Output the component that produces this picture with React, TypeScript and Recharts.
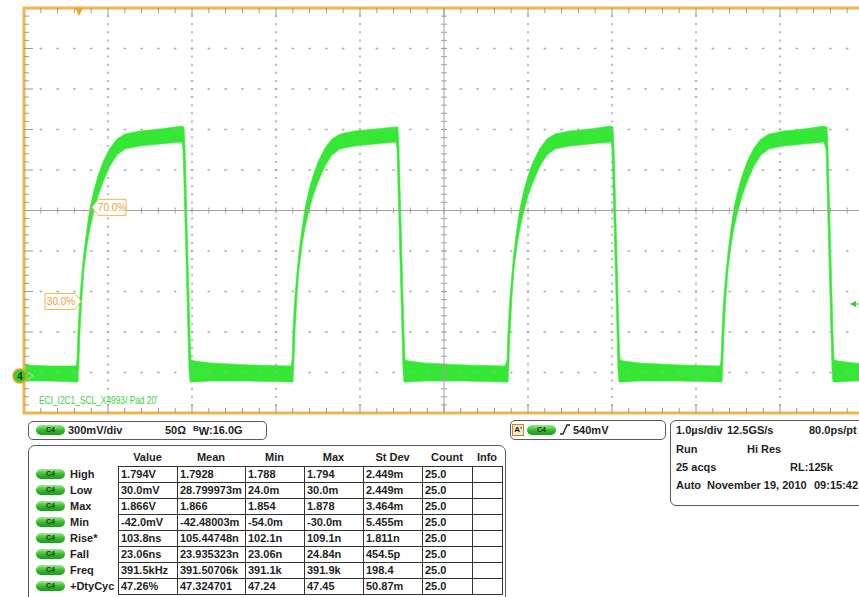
import React from "react";
import {
  ComposedChart,
  Area,
  XAxis,
  YAxis,
  ReferenceLine,
  ReferenceArea,
  ReferenceDot,
} from "recharts";

// C4 trace: time in µs, band envelope in volts
const timeUs = [
  0, 0.3, 0.619, 0.631, 0.643, 0.655, 0.667, 0.69, 0.714, 0.75, 0.786, 0.833, 0.881, 0.94, 1.024, 1.107, 1.202, 1.381, 1.619, 1.881,
  1.893, 1.905, 1.917, 1.929, 1.94, 1.952, 1.964, 1.976, 1.988, 2.036, 2.214, 2.69, 3.167,
  3.179, 3.191, 3.202, 3.214, 3.226, 3.25, 3.274, 3.31, 3.345, 3.393, 3.44, 3.5, 3.583, 3.667, 3.762, 3.94, 4.179, 4.429,
  4.441, 4.452, 4.464, 4.476, 4.488, 4.5, 4.512, 4.524, 4.536, 4.583, 4.762, 5.238, 5.726,
  5.75, 5.762, 5.774, 5.786, 5.81, 5.833, 5.869, 5.905, 5.952, 6.0, 6.06, 6.143, 6.226, 6.321, 6.5, 6.738, 6.988,
  7.0, 7.012, 7.024, 7.036, 7.048, 7.06, 7.071, 7.083, 7.095, 7.143, 7.321, 7.798, 8.286,
  8.298, 8.31, 8.321, 8.333, 8.357, 8.381, 8.417, 8.452, 8.5, 8.548, 8.607, 8.69, 8.774, 8.869, 9.048, 9.286, 9.524,
  9.548, 9.56, 9.571, 9.583, 9.595, 9.607, 9.619, 9.631, 9.643, 9.69, 9.881, 10.0,
];
const upperV = [
  0.083, 0.075, 0.075, 0.12, 0.345, 0.48, 0.6, 0.78, 0.93, 1.11, 1.26, 1.395, 1.5, 1.605, 1.71, 1.778, 1.815, 1.838, 1.853, 1.875,
  1.868, 1.868, 1.71, 1.433, 1.155, 0.878, 0.6, 0.323, 0.12, 0.113, 0.098, 0.083, 0.075,
  0.075, 0.12, 0.345, 0.48, 0.6, 0.78, 0.93, 1.11, 1.26, 1.395, 1.5, 1.605, 1.71, 1.778, 1.815, 1.838, 1.853, 1.868,
  1.868, 1.868, 1.71, 1.433, 1.155, 0.878, 0.6, 0.323, 0.12, 0.113, 0.098, 0.083, 0.075,
  0.12, 0.345, 0.48, 0.6, 0.78, 0.93, 1.11, 1.26, 1.395, 1.5, 1.605, 1.71, 1.778, 1.815, 1.838, 1.853, 1.875,
  1.868, 1.868, 1.71, 1.433, 1.155, 0.878, 0.6, 0.323, 0.12, 0.113, 0.098, 0.083, 0.075,
  0.12, 0.345, 0.48, 0.6, 0.78, 0.93, 1.11, 1.26, 1.395, 1.5, 1.605, 1.71, 1.778, 1.815, 1.838, 1.853, 1.875,
  1.868, 1.868, 1.71, 1.433, 1.155, 0.878, 0.6, 0.323, 0.12, 0.113, 0.098, 0.09,
];
const lowerV = [
  -0.038, -0.038, -0.045, -0.045, -0.045, 0.12, 0.33, 0.6, 0.8, 0.98, 1.11, 1.24, 1.35, 1.455, 1.575, 1.658, 1.703, 1.725, 1.74, 1.755,
  1.695, 1.433, 1.155, 0.878, 0.6, 0.323, 0.045, -0.045, -0.045, -0.045, -0.038, -0.038, -0.045,
  -0.045, -0.045, -0.045, 0.12, 0.33, 0.6, 0.8, 0.98, 1.11, 1.24, 1.35, 1.455, 1.575, 1.658, 1.703, 1.725, 1.74, 1.755,
  1.695, 1.433, 1.155, 0.878, 0.6, 0.323, 0.045, -0.045, -0.045, -0.045, -0.038, -0.038, -0.045,
  -0.045, -0.045, 0.12, 0.33, 0.6, 0.8, 0.98, 1.11, 1.24, 1.35, 1.455, 1.575, 1.658, 1.703, 1.725, 1.74, 1.755,
  1.695, 1.433, 1.155, 0.878, 0.6, 0.323, 0.045, -0.045, -0.045, -0.045, -0.038, -0.038, -0.045,
  -0.045, -0.045, 0.12, 0.33, 0.6, 0.8, 0.98, 1.11, 1.24, 1.35, 1.455, 1.575, 1.658, 1.703, 1.725, 1.74, 1.755,
  1.695, 1.433, 1.155, 0.878, 0.6, 0.323, 0.045, -0.045, -0.045, -0.045, -0.038, -0.038,
];

// markers
const triggerTimeUs = 0.655;
const triggerLevelV = 0.54;
const rise30 = { t: 0.679, v: 0.559, label: "30.0%" };
const rise70 = { t: 0.81, v: 1.265, label: "70.0%" };

// measurement table
const measureNames = ["High", "Low", "Max", "Min", "Rise*", "Fall", "Freq", "+DtyCyc"];
const measureValue = ["1.794V", "30.0mV", "1.866V", "-42.0mV", "103.8ns", "23.06ns", "391.5kHz", "47.26%"];
const measureMean = ["1.7928", "28.799973m", "1.866", "-42.48003m", "105.44748n", "23.935323n", "391.50706k", "47.324701"];
const measureMin = ["1.788", "24.0m", "1.854", "-54.0m", "102.1n", "23.06n", "391.1k", "47.24"];
const measureMax = ["1.794", "30.0m", "1.878", "-30.0m", "109.1n", "24.84n", "391.9k", "47.45"];
const measureStdDev = ["2.449m", "2.449m", "3.464m", "5.455m", "1.811n", "454.5p", "198.4", "50.87m"];
const measureCount = ["25.0", "25.0", "25.0", "25.0", "25.0", "25.0", "25.0", "25.0"];
const tableHeaders = ["Value", "Mean", "Min", "Max", "St Dev", "Count", "Info"];

const X_MIN = 0;
const X_MAX = 10;
const Y_MIN = -0.2775;
const Y_MAX = 2.76;
const Y_DIV = (Y_MAX - Y_MIN) / 10;
const Y_MID = Y_MIN + 5 * Y_DIV;

const TRACE = "#36e836";
const ORANGE = "#efb650";
const GRID = "#a9a9a9";
const FONT = '"Liberation Sans", Arial, sans-serif';

const rows = timeUs.map((t, i) => ({ t, band: [lowerV[i], upperV[i]] }));

const divsX = [1, 2, 3, 4, 6, 7, 8, 9];
const divsY = [1, 2, 3, 4, 6, 7, 8, 9].map((k) => Y_MIN + k * Y_DIV);
const minorX: number[] = [];
for (let i = 1; i < 50; i++) minorX.push(i / 5);
const minorY: number[] = [];
for (let i = 1; i < 50; i++) minorY.push(Y_MIN + (i * Y_DIV) / 5);

const PX_T = 1 / 84; // µs per px
const PX_V = Y_DIV / 40.5; // V per px

const Tag = (props: any) => {
  const { cx, cy, label, dir } = props;
  if (cx == null || cy == null) return null;
  const pts =
    dir === "left"
      ? `${cx},${cy} ${cx + 6},${cy - 8} ${cx + 34},${cy - 8} ${cx + 34},${cy + 8} ${cx + 6},${cy + 8}`
      : `${cx},${cy} ${cx - 6},${cy - 8} ${cx - 36},${cy - 8} ${cx - 36},${cy + 8} ${cx - 6},${cy + 8}`;
  const tx = dir === "left" ? cx + 20 : cx - 20;
  return (
    <g>
      <polygon points={pts} fill="#fff" stroke={ORANGE} strokeWidth={1} />
      <text x={tx} y={cy + 3.5} textAnchor="middle" fontSize={10} fill="#e3a437" fontFamily={FONT}>
        {label}
      </text>
    </g>
  );
};

const TrigPos = (props: any) => {
  const { cx, cy } = props;
  if (cx == null) return null;
  return <polygon points={`${cx - 4},${cy} ${cx + 4},${cy} ${cx},${cy + 8}`} fill="#f0a52a" />;
};

const TrigLevel = (props: any) => {
  const { cx, cy } = props;
  if (cx == null) return null;
  return (
    <g>
      <polygon points={`${cx},${cy} ${cx + 6},${cy - 3} ${cx + 6},${cy + 3}`} fill="#2fcf2f" />
      <line x1={cx + 5} y1={cy} x2={cx + 12} y2={cy} stroke="#2fcf2f" strokeWidth={1} />
    </g>
  );
};

const GroundMark = (props: any) => {
  const { cx, cy } = props;
  if (cx == null) return null;
  return (
    <g>
      <circle cx={cx - 4} cy={cy} r={7} fill="#3ccf2c" stroke="#f0a020" strokeWidth={1.5} />
      <text x={cx - 4} y={cy + 3.5} textAnchor="middle" fontSize={10} fontWeight="bold" fill="#1d3d10" fontFamily={FONT}>
        4
      </text>
      <polyline points={`${cx + 4},${cy - 4} ${cx + 9},${cy} ${cx + 4},${cy + 4}`} fill="none" stroke="#9ef09e" strokeWidth={1} />
    </g>
  );
};

const Pill = ({ left, top }: { left: number; top: number }) => (
  <div
    style={{
      position: "absolute",
      left,
      top,
      width: 29,
      height: 10,
      borderRadius: 5,
      background: "linear-gradient(#9aec8a, #35b82c 55%, #1f9a1c)",
      color: "#0d3f0d",
      fontSize: 7,
      fontWeight: "bold",
      lineHeight: "10px",
      textAlign: "center",
    }}
  >
    C4
  </div>
);

const T = ({ left, top, children, style }: any) => (
  <div
    style={{
      position: "absolute",
      left,
      top,
      fontSize: 11,
      fontWeight: "bold",
      color: "#1f1f1f",
      lineHeight: "12px",
      whiteSpace: "nowrap",
      ...style,
    }}
  >
    {children}
  </div>
);

const colX = [118, 177, 245, 304, 363, 422, 472, 502];
const ROW_TOP = 466;
const ROW_H = 16;

export default function App() {
  const columns = [measureValue, measureMean, measureMin, measureMax, measureStdDev, measureCount, measureNames.map(() => "")];
  return (
    <div
      style={{
        position: "absolute",
        left: 0,
        top: 0,
        width: 859,
        height: 597,
        overflow: "hidden",
        background: "#fff",
        fontFamily: FONT,
      }}
    >
      <div style={{ position: "absolute", left: 0, top: 0 }}>
        <ComposedChart width={880} height={421} data={rows} margin={{ top: 8, right: 16, bottom: 8, left: 24 }}>
          <XAxis dataKey="t" type="number" domain={[X_MIN, X_MAX]} hide />
          <YAxis type="number" domain={[Y_MIN, Y_MAX]} allowDataOverflow hide />
          {/* dotted graticule */}
          {divsY.map((v) => (
            <ReferenceLine key={"gy" + v} y={v} stroke={GRID} strokeWidth={1.6} strokeDasharray="2.4 14.4" strokeDashoffset={1.2} />
          ))}
          {divsX.map((t) => (
            <ReferenceLine key={"gx" + t} x={t} stroke={GRID} strokeWidth={1.6} strokeDasharray="2 6.1" strokeDashoffset={1} />
          ))}
          <Area
            dataKey="band"
            type="linear"
            stroke={TRACE}
            strokeWidth={0.6}
            fill={TRACE}
            fillOpacity={1}
            dot={false}
            activeDot={false}
            isAnimationActive={false}
          />
          <ReferenceLine x={5} stroke="#a8a0a0" strokeWidth={1} />
          <ReferenceLine y={Y_MID} stroke="#a8a0a0" strokeWidth={1} />
          {minorX.map((t) => (
            <ReferenceLine
              key={"cx" + t}
              segment={[
                { x: t, y: Y_MID - 3 * PX_V },
                { x: t, y: Y_MID + 3 * PX_V },
              ]}
              stroke="#a8a0a0"
            />
          ))}
          {minorY.map((v) => (
            <ReferenceLine
              key={"cy" + v}
              segment={[
                { x: 5 - 3 * PX_T, y: v },
                { x: 5 + 3 * PX_T, y: v },
              ]}
              stroke="#a8a0a0"
            />
          ))}
          {minorX.map((t, i) => {
            const len = (i + 1) % 5 === 0 ? 9 : 5;
            return (
              <ReferenceLine
                key={"tt" + t}
                segment={[
                  { x: t, y: Y_MAX },
                  { x: t, y: Y_MAX - len * PX_V },
                ]}
                stroke="#9a9a9a"
              />
            );
          })}
          {minorX.map((t, i) => {
            const len = (i + 1) % 5 === 0 ? 9 : 5;
            return (
              <ReferenceLine
                key={"bt" + t}
                segment={[
                  { x: t, y: Y_MIN },
                  { x: t, y: Y_MIN + len * PX_V },
                ]}
                stroke="#9a9a9a"
              />
            );
          })}
          {minorY.map((v, i) => {
            const len = (i + 1) % 5 === 0 ? 9 : 5;
            return (
              <ReferenceLine
                key={"lt" + v}
                segment={[
                  { x: X_MIN, y: v },
                  { x: X_MIN + len * PX_T, y: v },
                ]}
                stroke="#9a9a9a"
              />
            );
          })}
          <ReferenceArea x1={X_MIN} x2={X_MAX} y1={Y_MIN} y2={Y_MAX} fill="none" fillOpacity={0} stroke={ORANGE} strokeWidth={3} />
          <ReferenceDot x={triggerTimeUs} y={Y_MAX} shape={(p: any) => <TrigPos {...p} />} />
          <ReferenceDot x={rise70.t} y={rise70.v} shape={(p: any) => <Tag {...p} label={rise70.label} dir="left" />} />
          <ReferenceDot x={rise30.t} y={rise30.v} shape={(p: any) => <Tag {...p} label={rise30.label} dir="right" />} />
          <ReferenceDot x={X_MIN} y={0} ifOverflow="visible" shape={(p: any) => <GroundMark {...p} />} />
          <ReferenceDot x={9.833} y={triggerLevelV} shape={(p: any) => <TrigLevel {...p} />} />
        </ComposedChart>
      </div>

      <div
        style={{
          position: "absolute",
          left: 39,
          top: 394,
          fontSize: 11,
          color: "#3cd23c",
          transform: "scaleX(0.76)",
          transformOrigin: "left top",
          whiteSpace: "nowrap",
        }}
      >
        ECI_I2C1_SCL_X4993/ Pad 20'
      </div>

      {/* channel box */}
      <div style={{ position: "absolute", left: 28, top: 421, width: 237, height: 17, border: "1px solid #5a5a5a", borderRadius: 5 }} />
      <Pill left={36} top={425} />
      <T left={68} top={424}>300mV/div</T>
      <T left={165} top={424}>50Ω</T>
      <T left={193} top={424}>
        <span style={{ fontSize: 8, position: "relative", top: -3 }}>B</span>
        <span style={{ position: "relative", top: 1 }}>W</span>:16.0G
      </T>

      {/* measurement table */}
      <div style={{ position: "absolute", left: 28, top: 445, width: 476, height: 170, border: "1px solid #5a5a5a", borderRadius: 7 }} />
      {tableHeaders.map((h, c) => (
        <T key={h} left={colX[c]} top={451} style={{ width: colX[c + 1] - colX[c], textAlign: "center" }}>
          {h}
        </T>
      ))}
      {measureNames.map((name, r) => (
        <React.Fragment key={name}>
          <Pill left={36} top={ROW_TOP + r * ROW_H + 3} />
          <T left={70} top={ROW_TOP + r * ROW_H + 2}>{name}</T>
          {columns.map((col, c) => (
            <div
              key={c}
              style={{
                position: "absolute",
                left: colX[c],
                top: ROW_TOP + r * ROW_H,
                width: colX[c + 1] - colX[c] + 1,
                height: ROW_H + 1,
                boxSizing: "border-box",
                border: "1px solid #333",
                fontSize: 11,
                fontWeight: "bold",
                color: "#1f1f1f",
                lineHeight: "14px",
                paddingLeft: 2,
                whiteSpace: "nowrap",
                overflow: "hidden",
              }}
            >
              {col[r]}
            </div>
          ))}
        </React.Fragment>
      ))}

      {/* trigger box */}
      <div style={{ position: "absolute", left: 510, top: 420, width: 154, height: 18, border: "1px solid #5a5a5a", borderRadius: 5 }} />
      <div
        style={{
          position: "absolute",
          left: 512,
          top: 424,
          width: 10,
          height: 10,
          border: "1px solid #b98a3a",
          background: "#f6e7c6",
          fontSize: 8,
          fontWeight: "bold",
          lineHeight: "10px",
          textAlign: "center",
          color: "#222",
        }}
      >
        A'
      </div>
      <Pill left={527} top={425} />
      <svg style={{ position: "absolute", left: 559, top: 423 }} width={12} height={13}>
        <path d="M1 11 L4 11 L8 2 L11 2" fill="none" stroke="#222" strokeWidth={1.3} />
      </svg>
      <T left={573} top={424}>540mV</T>

      {/* timebase box */}
      <div style={{ position: "absolute", left: 670, top: 420, width: 220, height: 84, border: "1px solid #5a5a5a", borderRadius: 6 }} />
      <T left={676} top={424}>1.0µs/div</T>
      <T left={727} top={424}>12.5GS/s</T>
      <T left={809} top={424}>80.0ps/pt</T>
      <T left={676} top={443}>Run</T>
      <T left={747} top={443}>Hi Res</T>
      <T left={676} top={461}>25 acqs</T>
      <T left={790} top={461}>RL:125k</T>
      <T left={676} top={479}>Auto</T>
      <T left={707} top={479}>November 19, 2010</T>
      <T left={814} top={479}>09:15:42</T>
    </div>
  );
}
